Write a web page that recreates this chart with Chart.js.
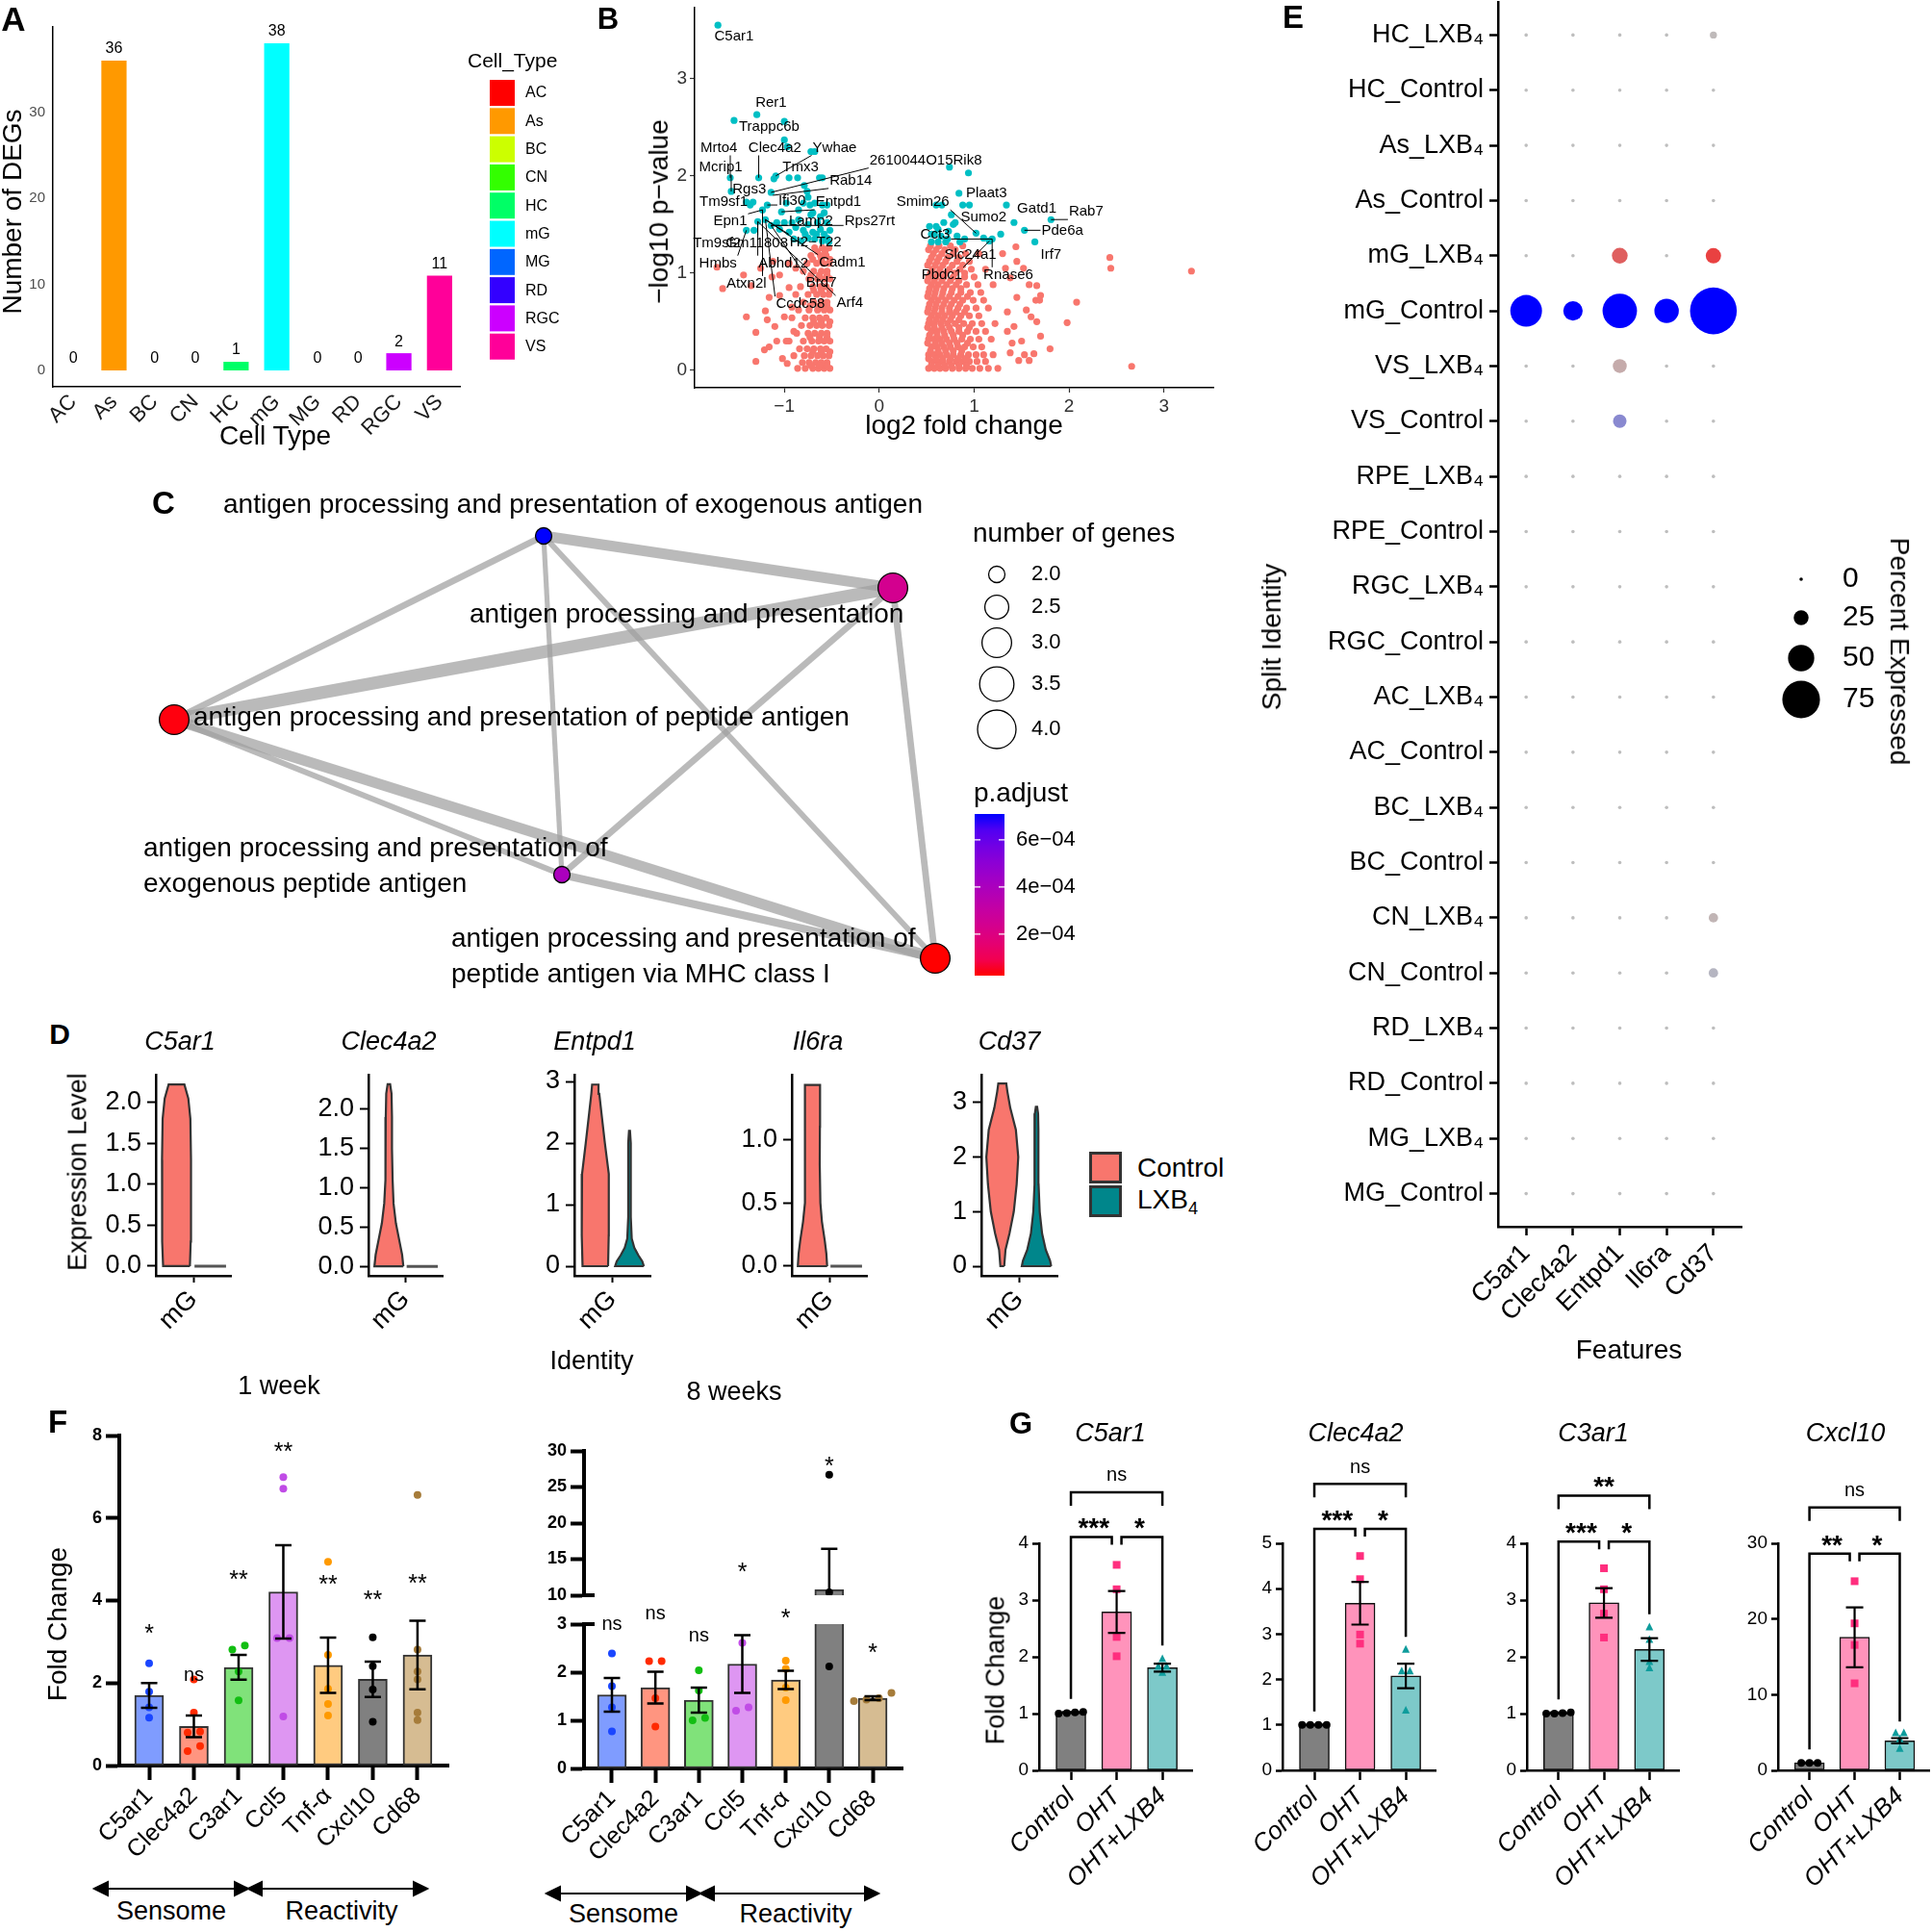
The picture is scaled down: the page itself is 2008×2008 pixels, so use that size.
<!DOCTYPE html>
<html>
<head>
<meta charset="utf-8">
<title>LXB4 figure</title>
<script src="https://cdn.jsdelivr.net/npm/chart.js@4.4.1/dist/chart.umd.min.js"></script>
<style>
  html, body { margin: 0; padding: 0; background: #fff; }
  #fig { position: relative; width: 2008px; height: 2008px; overflow: hidden; background: #fff;
         font-family: 'Liberation Sans', Arial, Helvetica, sans-serif; color: #000; }
  #fig canvas { position: absolute; }
  .t { position: absolute; white-space: nowrap; line-height: 1.15; }
  .sw { position: absolute; box-sizing: border-box; border: 3px solid #333; }
  svg { position: absolute; left: 0; top: 0; }
</style>
</head>
<body>
<div id="fig"></div>
<script>
// ---------- A: DEGs per cell type ----------
var cellTypes = ['AC', 'As', 'BC', 'CN', 'HC', 'mG', 'MG', 'RD', 'RGC', 'VS'];
var degCounts = [0, 36, 0, 0, 1, 38, 0, 0, 2, 11];
var cellColors = ['#FF0000', '#FF9900', '#CCFF00', '#33FF00', '#00FF66', '#00FFFF', '#0066FF', '#3300FF', '#CC00FF', '#FF0099'];
var degTicks = [0, 10, 20, 30];

// ---------- B: volcano (log2FC, -log10 p) ----------
var volcanoSig = [
  [-1.70,3.55],[-1.29,2.63],[-1.53,2.57],[-1.00,2.56],[-1.00,2.37],[-0.97,2.30],[-0.72,2.25],[-0.68,2.25],
  [-1.57,1.98],[-1.27,1.98],[-1.09,2.00],[-1.11,1.97],[-0.95,1.98],[-0.86,1.98],[-0.63,1.98],[-0.60,1.98],
  [-1.56,1.84],[-1.14,1.83],[-0.76,1.84],[-0.79,1.90],[-0.75,1.78],[-1.36,1.70],[-1.40,1.73],[-1.33,1.73],
  [-1.18,1.70],[-0.98,1.72],[-0.80,1.72],[-0.73,1.70],[-0.68,1.72],[-0.60,1.70],[-0.55,1.70],[-1.23,1.65],
  [-1.03,1.63],[-0.72,1.60],[-1.28,1.53],[-1.20,1.55],[-1.08,1.52],[-1.00,1.52],[-0.92,1.52],[-0.85,1.55],
  [-0.75,1.50],[-0.65,1.52],[-0.55,1.52],[-1.40,1.44],[-1.32,1.44],[-1.14,1.49],[-1.05,1.45],[-0.95,1.42],
  [-0.88,1.47],[-0.80,1.44],[-0.70,1.42],[-0.62,1.45],[-0.52,1.44],[-0.90,1.35],[-0.82,1.33],[-0.75,1.36],
  [-0.68,1.35],[-0.60,1.33],[-0.55,1.36],[-0.53,1.32],[-0.58,1.40],[-0.66,1.40],[-0.78,1.40],[-0.62,1.58],
  [-0.70,1.62],[-0.58,1.62],[-0.85,1.65],
  [0.74,2.09],[0.94,2.03],[0.84,1.82],[0.95,1.70],[1.34,1.70],[0.66,1.70],[0.60,1.70],[0.88,1.70],
  [0.76,1.60],[0.80,1.52],[0.68,1.52],[0.53,1.48],[0.60,1.48],[0.73,1.43],[1.02,1.41],[1.28,1.40],
  [1.19,1.35],[1.16,1.33],[1.42,1.52],[1.53,1.44],[1.81,1.55],[1.64,1.32],[0.55,1.32],[0.62,1.32],
  [0.70,1.32],[0.85,1.32],[0.90,1.35],[1.10,1.36],[0.58,1.40],[0.65,1.38],[0.55,1.40],[0.62,1.45],
  [0.78,1.50],[0.82,1.38],[0.72,1.35]
];
var volcanoNs = [
  [-0.52,0.02],[-0.58,0.02],[-0.64,0.02],[-0.70,0.02],[-0.78,0.02],[-0.86,0.02],
  [-0.55,0.08],[-0.61,0.08],[-0.67,0.08],[-0.74,0.08],[-0.81,0.08],
  [-0.53,0.15],[-0.59,0.15],[-0.65,0.15],[-0.72,0.15],[-0.79,0.15],[-0.90,0.15],
  [-0.56,0.22],[-0.62,0.22],[-0.69,0.22],[-0.76,0.22],[-0.84,0.22],
  [-0.52,0.30],[-0.58,0.30],[-0.64,0.30],[-0.71,0.30],[-0.80,0.30],[-0.95,0.30],
  [-0.55,0.38],[-0.61,0.38],[-0.68,0.38],[-0.75,0.38],[-0.87,0.38],
  [-0.53,0.46],[-0.60,0.46],[-0.66,0.46],[-0.73,0.46],[-0.82,0.46],
  [-0.56,0.54],[-0.63,0.54],[-0.70,0.54],[-0.78,0.54],[-0.92,0.54],
  [-0.52,0.62],[-0.58,0.62],[-0.65,0.62],[-0.74,0.62],[-0.85,0.62],
  [-0.55,0.70],[-0.61,0.70],[-0.69,0.70],[-0.80,0.70],
  [-0.53,0.78],[-0.59,0.78],[-0.66,0.78],[-0.75,0.78],[-0.88,0.78],
  [-0.56,0.86],[-0.62,0.86],[-0.70,0.86],[-0.83,0.86],
  [-0.52,0.94],[-0.58,0.94],[-0.65,0.94],[-0.74,0.94],
  [-0.55,1.02],[-0.61,1.02],[-0.69,1.02],[-0.80,1.02],
  [-0.53,1.10],[-0.59,1.10],[-0.66,1.10],[-0.76,1.10],
  [-0.56,1.18],[-0.62,1.18],[-0.72,1.18],
  [-0.53,1.26],[-0.60,1.26],[-0.68,1.26],
  [-0.55,0.05],[-0.63,0.05],[-0.72,0.05],[-0.52,0.19],[-0.61,0.19],[-0.70,0.19],
  [-0.55,0.34],[-0.63,0.34],[-0.73,0.34],[-0.52,0.50],[-0.61,0.50],[-0.69,0.50],
  [-0.55,0.66],[-0.63,0.66],[-0.73,0.66],[-0.52,0.82],[-0.61,0.82],[-0.69,0.82],
  [-0.55,0.98],[-0.63,0.98],[-0.72,0.98],[-0.52,1.14],[-0.61,1.14],[-0.70,1.14],
  [-0.57,1.22],[-0.65,1.22],
  [-1.71,1.06],[-1.65,0.84],[-1.43,0.98],[-1.30,0.39],[-1.21,0.21],[-1.16,0.24],[-1.30,0.09],[-1.20,0.61],
  [-1.16,0.75],[-1.13,0.96],[-1.05,0.98],[-1.05,0.77],[-1.10,0.45],[-1.00,0.55],[-0.98,0.30],[-1.02,0.12],
  [-0.95,0.85],[-0.92,0.65],[-0.95,1.10],[-1.25,1.05],[-1.35,0.87],[-1.18,0.52],[-1.08,0.30],[-0.97,0.07],
  [-0.90,0.40],[-0.88,1.05],[-1.12,1.12],[-1.40,0.55],
  [0.52,0.02],[0.58,0.02],[0.64,0.02],[0.70,0.02],[0.77,0.02],[0.84,0.02],[0.91,0.02],[0.98,0.02],[1.06,0.02],[1.15,0.02],[1.25,0.02],
  [0.55,0.09],[0.61,0.09],[0.67,0.09],[0.74,0.09],[0.81,0.09],[0.88,0.09],[0.95,0.09],[1.03,0.09],[1.12,0.09],
  [0.52,0.16],[0.58,0.16],[0.64,0.16],[0.71,0.16],[0.78,0.16],[0.86,0.16],[0.94,0.16],[1.02,0.16],[1.10,0.16],[1.20,0.16],
  [0.55,0.24],[0.61,0.24],[0.68,0.24],[0.75,0.24],[0.83,0.24],[0.90,0.24],[0.99,0.24],[1.08,0.24],
  [0.52,0.32],[0.58,0.32],[0.64,0.32],[0.71,0.32],[0.79,0.32],[0.87,0.32],[0.96,0.32],[1.05,0.32],[1.18,0.32],
  [0.55,0.40],[0.61,0.40],[0.68,0.40],[0.76,0.40],[0.84,0.40],[0.93,0.40],[1.02,0.40],[1.12,0.40],
  [0.52,0.48],[0.58,0.48],[0.65,0.48],[0.72,0.48],[0.80,0.48],[0.89,0.48],[0.98,0.48],[1.08,0.48],[1.22,0.48],
  [0.55,0.56],[0.62,0.56],[0.69,0.56],[0.77,0.56],[0.86,0.56],[0.95,0.56],[1.05,0.56],
  [0.52,0.64],[0.59,0.64],[0.66,0.64],[0.74,0.64],[0.83,0.64],[0.92,0.64],[1.02,0.64],[1.15,0.64],
  [0.55,0.72],[0.62,0.72],[0.70,0.72],[0.79,0.72],[0.88,0.72],[0.99,0.72],[1.10,0.72],
  [0.52,0.80],[0.59,0.80],[0.67,0.80],[0.76,0.80],[0.86,0.80],[0.96,0.80],[1.07,0.80],
  [0.55,0.88],[0.62,0.88],[0.71,0.88],[0.81,0.88],[0.92,0.88],[1.04,0.88],[1.20,0.88],
  [0.52,0.96],[0.60,0.96],[0.68,0.96],[0.78,0.96],[0.90,0.96],[1.00,0.96],
  [0.56,1.04],[0.64,1.04],[0.74,1.04],[0.85,1.04],[0.97,1.04],[1.12,1.04],
  [0.53,1.12],[0.61,1.12],[0.70,1.12],[0.82,1.12],[0.95,1.12],
  [0.57,1.20],[0.66,1.20],[0.78,1.20],[0.91,1.20],[1.05,1.20],
  [0.54,1.28],[0.63,1.28],[0.75,1.28],[0.88,1.28],
  [0.55,0.05],[0.62,0.05],[0.69,0.05],[0.76,0.05],[0.84,0.05],[0.92,0.05],
  [0.52,0.12],[0.60,0.12],[0.67,0.12],[0.75,0.12],[0.83,0.12],[0.91,0.12],
  [0.54,0.20],[0.62,0.20],[0.70,0.20],[0.78,0.20],[0.87,0.20],
  [0.51,0.28],[0.59,0.28],[0.66,0.28],[0.74,0.28],[0.82,0.28],[0.93,0.28],
  [0.53,0.36],[0.61,0.36],[0.69,0.36],[0.78,0.36],[0.88,0.36],
  [0.51,0.44],[0.58,0.44],[0.66,0.44],[0.74,0.44],[0.84,0.44],[0.95,0.44],
  [0.53,0.52],[0.60,0.52],[0.67,0.52],[0.75,0.52],[0.84,0.52],
  [0.51,0.60],[0.58,0.60],[0.66,0.60],[0.74,0.60],[0.81,0.60],[0.90,0.60],
  [0.53,0.68],[0.60,0.68],[0.68,0.68],[0.76,0.68],[0.85,0.68],
  [0.51,0.76],[0.58,0.76],[0.66,0.76],[0.74,0.76],[0.83,0.76],[0.93,0.76],
  [0.53,0.84],[0.60,0.84],[0.68,0.84],[0.77,0.84],[0.86,0.84],
  [0.51,0.92],[0.58,0.92],[0.66,0.92],[0.75,0.92],[0.84,0.92],
  [0.54,1.00],[0.62,1.00],[0.70,1.00],[0.80,1.00],[0.90,1.00],
  [0.51,1.08],[0.59,1.08],[0.67,1.08],[0.77,1.08],[0.88,1.08],
  [0.55,1.16],[0.63,1.16],[0.72,1.16],[0.84,1.16],
  [0.52,1.24],[0.60,1.24],[0.69,1.24],[0.80,1.24],
  [1.38,0.95],[1.45,0.75],[1.35,0.60],[1.42,0.45],[1.50,0.30],[1.38,0.18],[1.47,0.10],[1.55,0.62],
  [1.58,0.88],[1.65,0.72],[1.60,0.55],[1.66,0.50],[1.70,0.35],[1.52,1.05],[1.45,1.12],[1.30,1.20],
  [1.33,1.05],[1.35,0.40],[1.40,0.28],[1.58,0.10],[1.63,0.17],[1.53,0.16],[1.44,1.27],[1.70,0.77],
  [1.69,0.72],[1.66,0.87],[1.80,0.22],[1.98,0.49],[2.08,0.70],[2.43,1.16],[2.44,1.05],[2.66,0.04],[3.29,1.02]
];
// gene, point x, point y, label x, label y
var volcanoLabels = [
  ['C5ar1', -1.70, 3.55, -1.53, 3.43], ['Rer1', -1.29, 2.63, -1.14, 2.75], ['Trappc6b', -1.53, 2.57, -1.16, 2.50],
  ['Mrto4', -1.57, 1.98, -1.69, 2.29], ['Mcrip1', -1.56, 1.84, -1.67, 2.09], ['Clec4a2', -1.27, 1.98, -1.10, 2.29],
  ['Ywhae', -1.09, 2.00, -0.47, 2.29], ['Tmx3', -1.11, 1.97, -0.83, 2.09], ['2610044O15Rik8', -1.14, 1.83, 0.49, 2.16],
  ['Rab14', -1.12, 1.80, -0.30, 1.95], ['Rgs3', -1.40, 1.73, -1.37, 1.86], ['Tm9sf1', -1.33, 1.73, -1.64, 1.73],
  ['Ifi30', -1.18, 1.70, -0.92, 1.74], ['Entpd1', -1.03, 1.63, -0.43, 1.73], ['Epn1', -1.23, 1.65, -1.57, 1.53],
  ['Lamp2', -1.14, 1.49, -0.72, 1.53], ['Rps27rt', -1.14, 1.49, -0.10, 1.53], ['Tm9sf2', -1.40, 1.44, -1.71, 1.31],
  ['Gm11808', -1.28, 1.53, -1.29, 1.31], ['H2\u2212T22', -1.20, 1.55, -0.67, 1.32], ['Hmbs', -1.40, 1.44, -1.70, 1.10],
  ['Abhd12', -1.28, 1.53, -1.01, 1.10], ['Cadm1', -1.20, 1.55, -0.39, 1.11], ['Atxn2l', -1.23, 1.65, -1.40, 0.89],
  ['Brd7', -1.14, 1.49, -0.61, 0.90], ['Ccdc58', -1.20, 1.55, -0.83, 0.68], ['Arf4', -1.28, 1.53, -0.31, 0.69],
  ['Smim26', 1.02, 1.41, 0.46, 1.73], ['Plaat3', 0.84, 1.82, 1.13, 1.82], ['Sumo2', 1.28, 1.40, 1.10, 1.57],
  ['Cct3', 1.19, 1.35, 0.59, 1.40], ['Gatd1', 1.42, 1.52, 1.66, 1.66], ['Rab7', 1.81, 1.55, 2.18, 1.63],
  ['Pde6a', 1.53, 1.44, 1.93, 1.43], ['Irf7', 1.64, 1.32, 1.81, 1.19], ['Slc24a1', 1.16, 1.33, 0.96, 1.19],
  ['Pbdc1', 1.16, 1.33, 0.66, 0.98], ['Rnase6', 1.19, 1.35, 1.36, 0.98]
];
var fcTicks = [-1, 0, 1, 2, 3];
var pvalTicks = [0, 1, 2, 3];

// ---------- C: GO term network ----------
var goTerms = ['antigen processing and presentation of exogenous antigen',
  'antigen processing and presentation',
  'antigen processing and presentation of peptide antigen',
  'antigen processing and presentation of\nexogenous peptide antigen',
  'antigen processing and presentation of\npeptide antigen via MHC class I'];
var goGenes = [2, 3, 3, 2, 3];
var goPadj = [7.1e-4, 2.4e-4, 0.26e-4, 4.0e-4, 0.24e-4];
var goX = [5.65, 9.28, 1.81, 5.84, 9.72];
var goY = [5.57, 6.11, 7.48, 9.09, 9.96];
var goEdges = [[0, 1, 0.62], [0, 2, 0.36], [0, 3, 0.26], [0, 4, 0.30], [1, 2, 0.76],
               [1, 3, 0.36], [1, 4, 0.36], [2, 3, 0.32], [2, 4, 0.64], [3, 4, 0.46]];
var sizeLegend = [2.0, 2.5, 3.0, 3.5, 4.0];
var padjTicks = [6e-4, 4e-4, 2e-4];

// ---------- D: violins in mG ----------
var dGenes = ['C5ar1', 'Clec4a2', 'Entpd1', 'Il6ra', 'Cd37'];
var dTicks = [[0, 0.5, 1, 1.5, 2], [0, 0.5, 1, 1.5, 2], [0, 1, 2, 3], [0, 0.5, 1], [0, 1, 2, 3]];
var dRange = [[-0.118, 2.34], [-0.12, 2.44], [-0.156, 3.11], [-0.076, 1.51], [-0.176, 3.51]];
var dCtrlY = [[0, 0.3, 0.8, 1.3, 1.8, 2.05, 2.22],
              [0, 0.15, 0.35, 0.55, 0.8, 1.1, 1.5, 1.9, 2.2, 2.32],
              [0, 0.5, 1.0, 1.5, 2.0, 2.5, 2.8, 2.95],
              [0, 0.1, 0.2, 0.35, 0.5, 0.8, 1.1, 1.35, 1.43],
              [0, 0.3, 0.6, 1.0, 1.5, 2.0, 2.5, 2.9, 3.2, 3.35]];
var dCtrlW = [[0.85, 0.9, 0.92, 0.92, 0.88, 0.75, 0.5],
              [0.93, 0.85, 0.65, 0.45, 0.3, 0.24, 0.2, 0.2, 0.17, 0.08],
              [0.8, 0.84, 0.86, 0.83, 0.6, 0.38, 0.25, 0.2],
              [0.93, 0.88, 0.78, 0.6, 0.5, 0.46, 0.47, 0.48, 0.48],
              [0.12, 0.2, 0.45, 0.72, 0.9, 1.0, 0.85, 0.5, 0.32, 0.25]];
var dLxbY = [[0, 0], [0, 0],
             [0, 0.08, 0.18, 0.3, 0.45, 0.8, 1.5, 2.0, 2.2],
             [0, 0],
             [0, 0.1, 0.3, 0.6, 1.0, 1.5, 2.0, 2.5, 2.8, 2.92]];
var dLxbW = [[1, 1], [1, 1],
             [0.9, 0.8, 0.55, 0.3, 0.14, 0.08, 0.08, 0.08, 0.03],
             [1, 1],
             [0.92, 0.85, 0.58, 0.35, 0.2, 0.13, 0.12, 0.12, 0.1, 0.04]];

// ---------- E: dot plot ----------
var eRows = ['HC_LXB\u2084', 'HC_Control', 'As_LXB\u2084', 'As_Control', 'mG_LXB\u2084', 'mG_Control',
  'VS_LXB\u2084', 'VS_Control', 'RPE_LXB\u2084', 'RPE_Control', 'RGC_LXB\u2084', 'RGC_Control',
  'AC_LXB\u2084', 'AC_Control', 'BC_LXB\u2084', 'BC_Control', 'CN_LXB\u2084', 'CN_Control',
  'RD_LXB\u2084', 'RD_Control', 'MG_LXB\u2084', 'MG_Control'];
var eFeatures = ['C5ar1', 'Clec4a2', 'Entpd1', 'Il6ra', 'Cd37'];
var ePct = [
  [0, 0, 0, 0, 8], [0, 0, 0, 0, 0], [0, 0, 0, 0, 0], [0, 0, 0, 0, 0],
  [0, 0, 27, 0, 26], [62, 35, 68, 46, 95], [0, 0, 23, 0, 0], [0, 0, 22, 0, 0],
  [0, 0, 0, 0, 0], [0, 0, 0, 0, 0], [0, 0, 0, 0, 0], [0, 0, 0, 0, 0],
  [0, 0, 0, 0, 0], [0, 0, 0, 0, 0], [0, 0, 0, 0, 0], [0, 0, 0, 0, 0],
  [0, 0, 0, 0, 13], [0, 0, 0, 0, 13], [0, 0, 0, 0, 0], [0, 0, 0, 0, 0],
  [0, 0, 0, 0, 0], [0, 0, 0, 0, 0]];
var eExpr = [
  [0, 0, 0, 0, 0.02], [0, 0, 0, 0, 0], [0, 0, 0, 0, 0], [0, 0, 0, 0, 0],
  [0, 0, 0.5, 0, 0.66], [1, 1, 1, 1, 1], [0, 0, 0.1, 0, 0], [0, 0, 0.28, 0, 0],
  [0, 0, 0, 0, 0], [0, 0, 0, 0, 0], [0, 0, 0, 0, 0], [0, 0, 0, 0, 0],
  [0, 0, 0, 0, 0], [0, 0, 0, 0, 0], [0, 0, 0, 0, 0], [0, 0, 0, 0, 0],
  [0, 0, 0, 0, 0.05], [0, 0, 0, 0, 0.05], [0, 0, 0, 0, 0], [0, 0, 0, 0, 0],
  [0, 0, 0, 0, 0], [0, 0, 0, 0, 0]];
var pctLegend = [0, 25, 50, 75];

// ---------- F: qPCR fold change ----------
var fGenes = ['C5ar1', 'Clec4a2', 'C3ar1', 'Ccl5', 'Tnf-\u03b1', 'Cxcl10', 'Cd68'];
var f1Mean = [1.70, 0.95, 2.38, 4.21, 2.43, 2.09, 2.68];
var f1Sem = [0.30, 0.26, 0.30, 1.13, 0.67, 0.43, 0.83];
var f1Pts = [[2.48, 1.79, 1.41, 1.16], [2.09, 1.28, 0.80, 0.82, 0.47, 0.35], [2.81, 2.91, 2.28, 1.58],
             [6.99, 6.71, 3.09, 3.09, 1.19], [4.94, 2.68, 1.86, 1.49, 1.21], [3.11, 2.41, 1.84, 1.06],
             [6.56, 2.81, 2.28, 2.09, 1.28, 1.10]];
var f1Sig = ['*', 'ns', '**', '**', '**', '**', '**'];
var f1SigY = [3.34, 2.18, 4.64, 7.74, 4.53, 4.16, 4.55];
var f2Mean = [1.53, 1.68, 1.42, 2.17, 1.84, 10.78, 1.46];
var f2Sem = [0.35, 0.33, 0.26, 0.60, 0.19, 5.66, 0.04];
var f2Pts = [[2.39, 1.71, 1.27, 0.77], [2.23, 2.23, 1.46, 0.87], [2.04, 1.62, 1.05, 1.00],
             [2.61, 1.27, 1.20, 3.60], [2.24, 2.07, 1.68, 1.42], [26.7, 10.4, 2.12, 3.90],
             [1.57, 1.40, 1.46, 1.43]];
var f2Sig = ['ns', 'ns', 'ns', '*', '*', '*', '*'];
var f2SigY = [3.0, 3.22, 2.76, 14.05, 3.24, 28.7, 2.52];
var fBarColors = ['#7F9CFF', '#FF9580', '#80E27A', '#DE96F2', '#FFCB80', '#808080', '#D6BC92'];
var fDotColors = ['#1A46FF', '#FF2A00', '#12BE12', '#C04CE6', '#FF9A00', '#000000', '#A67C3A'];

// ---------- G: qPCR Control / OHT / OHT+LXB4 ----------
var gGroups = ['Control', 'OHT', 'OHT+LXB4'];
var gGenes = ['C5ar1', 'Clec4a2', 'C3ar1', 'Cxcl10'];
var gMean = [[1.02, 2.79, 1.81], [1.0, 3.68, 2.08], [1.01, 2.95, 2.13], [1.0, 17.58, 3.91]];
var gSem = [[0.01, 0.37, 0.07], [0.01, 0.47, 0.27], [0.01, 0.26, 0.20], [0.05, 3.96, 0.35]];
var gPts = [
  [[1.00, 1.03, 1.02, 1.01], [3.62, 3.19, 2.35, 2.01], [1.96, 1.83, 1.83, 1.72]],
  [[1.00, 1.00, 1.00, 1.00], [4.72, 4.21, 2.99, 2.79], [2.66, 2.18, 2.18, 1.32]],
  [[1.02, 1.00, 1.01, 1.00], [3.56, 3.19, 2.76, 2.34], [2.52, 2.30, 1.91, 1.80]],
  [[1.00, 1.00, 1.00], [24.99, 19.42, 16.57, 11.50], [4.92, 4.92, 4.14, 2.85]]];
var gYMax = [4, 5, 4, 30];
var gYStep = [1, 1, 1, 10];
var gTopY = [4.9, 6.31, 4.84, 34.74];
var gTopSig = ['ns', 'ns', '**', 'ns'];
var gLowY = [4.11, 5.32, 4.03, 28.62];
var gLowSig = [['***', '*'], ['***', '*'], ['***', '*'], ['**', '*']];
var gLegCtrl = [1.26, 1.30, 1.25, 2.76];
var gLegLxb = [2.2, 2.94, 2.75, 6.44];
var gBarColors = ['#808080', '#FF93BB', '#7DC9C9'];
var gDotColors = ['#000000', '#FF2E7E', '#0E9C9C'];
var gShapes = ['circle', 'rect', 'triangle'];

// ================= drawing =================
var FONT = "'Liberation Sans', Arial, Helvetica, sans-serif";
Chart.defaults.font.family = FONT;
Chart.defaults.color = '#000';
Chart.defaults.animation = false;
Chart.defaults.responsive = false;
Chart.defaults.events = [];
Chart.defaults.layout.autoPadding = false;
Chart.defaults.plugins.legend.display = false;
Chart.defaults.plugins.tooltip.enabled = false;

var fig = document.getElementById('fig');

function panel(box, area) {
  var c = document.createElement('canvas');
  c.width = box[2];
  c.height = box[3];
  c.style.left = box[0] + 'px';
  c.style.top = box[1] + 'px';
  fig.appendChild(c);
  return {
    el: c, ox: box[0], oy: box[1],
    pad: { left: 0, top: area[1] - box[1], right: box[0] + box[2] - area[2], bottom: 0 },
    yw: area[0] - box[0],
    xh: box[1] + box[3] - area[3]
  };
}
function fitTo(size) {
  return function (s) {
    if (s.isHorizontal()) { s.height = size; } else { s.width = size; }
    s.paddingLeft = 0; s.paddingRight = 0; s.paddingTop = 0; s.paddingBottom = 0;
  };
}
function tickList(list) {
  return function (s) { s.ticks = list.map(function (v) { return { value: v }; }); };
}
function txt(s, x, y, size, o) {
  o = o || {};
  var d = document.createElement('div');
  d.className = 't';
  d.innerHTML = s;
  d.style.left = x + 'px';
  d.style.top = y + 'px';
  d.style.fontSize = size + 'px';
  if (o.b) d.style.fontWeight = 'bold';
  if (o.i) d.style.fontStyle = 'italic';
  d.style.transform = 'translate(' + (o.left ? '0' : '-50%') + ',-50%)' + (o.rot ? ' rotate(' + o.rot + 'deg)' : '');
  fig.appendChild(d);
}
function minusFmt(v) { return v < 0 ? '\u2212' + Math.abs(v) : String(v); }

// ---- A ----
var pA = panel([0, 0, 610, 480], [55, 28, 478, 402]);
new Chart(pA.el, {
  type: 'bar',
  data: { labels: cellTypes, datasets: [{ data: degCounts, backgroundColor: cellColors, barPercentage: 0.62, categoryPercentage: 1 }] },
  options: {
    layout: { padding: pA.pad },
    scales: {
      x: { grid: { display: false, drawTicks: false }, border: { color: '#000', width: 1.5 },
           ticks: { font: { size: 22 }, color: '#1a1a1a', minRotation: 45, maxRotation: 45, autoSkip: false, padding: 3 },
           afterFit: fitTo(pA.xh) },
      y: { min: -1.9, max: 39.9, afterBuildTicks: tickList(degTicks), grid: { display: false, drawTicks: false },
           border: { color: '#000', width: 1.5 },
           ticks: { font: { size: 15 }, color: '#4d4d4d', padding: 8 }, afterFit: fitTo(pA.yw) }
    }
  },
  plugins: [{ id: 'degLabels', afterDraw: function (ch) {
    var ctx = ch.ctx, bars = ch.getDatasetMeta(0).data;
    ctx.save();
    ctx.font = '16px ' + FONT; ctx.fillStyle = '#000';
    ctx.textAlign = 'center'; ctx.textBaseline = 'bottom';
    bars.forEach(function (b, i) { ctx.fillText(String(degCounts[i]), b.x, b.y - 4); });
    ctx.textAlign = 'left'; ctx.textBaseline = 'middle';
    ctx.font = '21px ' + FONT;
    ctx.fillText('Cell_Type', 486, 64);
    ctx.font = '16px ' + FONT;
    cellTypes.forEach(function (t, i) {
      var y = 83 + i * 29.3;
      ctx.fillStyle = cellColors[i];
      ctx.fillRect(509, y, 26, 27);
      ctx.fillStyle = '#000';
      ctx.fillText(t, 546, y + 14);
    });
    ctx.restore();
  } }]
});

// ---- B ----
var pB = panel([620, 0, 680, 470], [722, 8, 1261, 403]);
function xy(p) { return { x: p[0], y: p[1] }; }
new Chart(pB.el, {
  type: 'scatter',
  data: { datasets: [
    { data: volcanoSig.map(xy), pointRadius: 3.6, pointBackgroundColor: '#00BFC4', pointBorderWidth: 0 },
    { data: volcanoNs.map(xy), pointRadius: 3.6, pointBackgroundColor: '#F8766D', pointBorderWidth: 0 }
  ] },
  options: {
    layout: { padding: pB.pad },
    scales: {
      x: { type: 'linear', min: -1.945, max: 3.52, afterBuildTicks: tickList(fcTicks),
           grid: { drawOnChartArea: false, tickLength: 5, tickColor: '#333', tickWidth: 1.2 },
           border: { color: '#000', width: 1.5 },
           ticks: { font: { size: 19 }, color: '#333', padding: 3, callback: minusFmt }, afterFit: fitTo(pB.xh) },
      y: { min: -0.18, max: 3.73, afterBuildTicks: tickList(pvalTicks),
           grid: { drawOnChartArea: false, tickLength: 5, tickColor: '#333', tickWidth: 1.2 },
           border: { color: '#000', width: 1.5 },
           ticks: { font: { size: 19 }, color: '#333', padding: 3 }, afterFit: fitTo(pB.yw) }
    }
  },
  plugins: [{ id: 'repel', afterDatasetsDraw: function (ch) {
    var ctx = ch.ctx, xs = ch.scales.x, ys = ch.scales.y;
    ctx.save();
    ctx.font = '15px ' + FONT;
    ctx.strokeStyle = '#000'; ctx.lineWidth = 1;
    volcanoLabels.forEach(function (l) {
      var px = xs.getPixelForValue(l[1]), py = ys.getPixelForValue(l[2]);
      var lx = xs.getPixelForValue(l[3]), ly = ys.getPixelForValue(l[4]);
      var hw = ctx.measureText(l[0]).width / 2 + 1, hh = 8;
      var nx = Math.max(lx - hw, Math.min(px, lx + hw)), ny = Math.max(ly - hh, Math.min(py, ly + hh));
      if (Math.hypot(nx - px, ny - py) > 10) {
        ctx.beginPath(); ctx.moveTo(px, py); ctx.lineTo(nx, ny); ctx.stroke();
      }
    });
    ctx.fillStyle = '#000'; ctx.textAlign = 'center'; ctx.textBaseline = 'middle';
    volcanoLabels.forEach(function (l) {
      ctx.fillText(l[0], xs.getPixelForValue(l[3]), ys.getPixelForValue(l[4]));
    });
    ctx.restore();
  } }]
});

// ---- C ----
var padjMin = 0.24e-4, padjMax = 7.1e-4;
function padjColor(p) {
  var t = Math.max(0, Math.min(1, (p - padjMin) / (padjMax - padjMin)));
  return 'rgb(' + Math.round(255 * Math.sqrt(1 - t)) + ',0,' + Math.round(255 * Math.sqrt(t)) + ')';
}
function geneRadius(v) { return Math.sqrt(72 + (v - 2) * 164); }
var cLayout = { labelX: [2.32, 4.88, 2.01, 1.49, 4.69], labelY: [5.25, 6.39, 7.46, 8.82, 9.76], lineGap: 0.37 };
var pC = panel([140, 490, 1160, 560], [140, 490, 1300, 1050]);
var cSets = [{
  data: goX.map(function (x, i) { return { x: x, y: goY[i] }; }),
  pointRadius: function (c) { return geneRadius(goGenes[c.dataIndex]); },
  pointBackgroundColor: function (c) { return padjColor(goPadj[c.dataIndex]); },
  pointBorderColor: '#000', pointBorderWidth: 1.3
}];
goEdges.forEach(function (e) {
  cSets.push({
    data: [{ x: goX[e[0]], y: goY[e[0]] }, { x: goX[e[1]], y: goY[e[1]] }],
    showLine: true, borderColor: 'rgba(160,160,160,0.72)', borderWidth: 1 + e[2] * 16, pointRadius: 0
  });
});
new Chart(pC.el, {
  type: 'scatter',
  data: { datasets: cSets },
  options: {
    layout: { padding: pC.pad },
    scales: {
      x: { type: 'linear', display: false, min: 1.40, max: 13.00, afterFit: fitTo(0) },
      y: { type: 'linear', display: false, min: 4.90, max: 10.50, reverse: true, afterFit: fitTo(0) }
    }
  },
  plugins: [{ id: 'netText', afterDraw: function (ch) {
    var ctx = ch.ctx, xs = ch.scales.x, ys = ch.scales.y;
    ctx.save();
    ctx.fillStyle = '#000'; ctx.textAlign = 'left'; ctx.textBaseline = 'middle';
    ctx.font = '28px ' + FONT;
    goTerms.forEach(function (t, i) {
      t.split('\n').forEach(function (line, k) {
        ctx.fillText(line, xs.getPixelForValue(cLayout.labelX[i]), ys.getPixelForValue(cLayout.labelY[i] + k * cLayout.lineGap));
      });
    });
    // size legend
    ctx.fillText('number of genes', 871, 65);
    ctx.font = '22px ' + FONT;
    var ly = [107, 141, 178, 221, 268];
    sizeLegend.forEach(function (v, i) {
      ctx.beginPath(); ctx.arc(896, ly[i], geneRadius(v), 0, Math.PI * 2);
      ctx.fillStyle = '#fff'; ctx.fill();
      ctx.strokeStyle = '#000'; ctx.lineWidth = 1.3; ctx.stroke();
      ctx.fillStyle = '#000'; ctx.fillText(v.toFixed(1), 932, ly[i]);
    });
    // colour bar
    ctx.font = '28px ' + FONT;
    ctx.fillText('p.adjust', 872, 335);
    var top = 356, h = 168;
    var g = ctx.createLinearGradient(0, top, 0, top + h);
    for (var s = 0; s <= 10; s++) g.addColorStop(s / 10, padjColor(padjMax - (padjMax - padjMin) * s / 10));
    ctx.fillStyle = g; ctx.fillRect(873, top, 31, h);
    ctx.font = '22px ' + FONT;
    padjTicks.forEach(function (v) {
      var y = top + (padjMax - v) / (padjMax - padjMin) * h;
      ctx.strokeStyle = '#fff'; ctx.lineWidth = 1.2;
      ctx.beginPath(); ctx.moveTo(873, y); ctx.lineTo(879, y); ctx.moveTo(898, y); ctx.lineTo(904, y); ctx.stroke();
      ctx.fillStyle = '#000';
      ctx.fillText(v.toExponential(0).replace('e-', 'e\u22120'), 916, y);
    });
    ctx.restore();
  } }]
});

// ---- D ----
var dAxisL = [162, 383, 597, 823, 1020], dAxisR = [240, 460, 676, 901, 1099];
function violinSet(levels, widths, c, col) {
  var pts = [], i;
  for (i = 0; i < levels.length; i++) pts.push({ x: c + widths[i] * 0.21, y: levels[i] });
  for (i = levels.length - 1; i >= 0; i--) pts.push({ x: c - widths[i] * 0.21, y: levels[i] });
  pts.push(pts[0]);
  var flat = levels[levels.length - 1] === 0;
  return { data: pts, borderColor: flat ? '#555' : '#333', borderWidth: flat ? 3 : 2.2, backgroundColor: col,
           fill: 'shape', pointRadius: 0, tension: 0 };
}
dGenes.forEach(function (g, k) {
  var L = dAxisL[k], R = dAxisR[k];
  var p = panel([L - 80, 1095, R - L + 100, 310], [L, 1117, R, 1326]);
  var oneDecimal = dTicks[k].some(function (v) { return v % 1 !== 0; });
  new Chart(p.el, {
    type: 'line',
    data: { datasets: [violinSet(dCtrlY[k], dCtrlW[k], -0.225, '#F8766D'), violinSet(dLxbY[k], dLxbW[k], 0.225, '#00868B')] },
    options: {
      layout: { padding: p.pad },
      scales: {
        x: { type: 'linear', min: -0.5, max: 0.5, afterBuildTicks: tickList([0]),
             grid: { drawOnChartArea: false, tickLength: 7, tickWidth: 2, tickColor: '#000' },
             border: { color: '#000', width: 2.5 },
             ticks: { minRotation: 45, maxRotation: 45, font: { size: 27 }, padding: 2, callback: function () { return 'mG'; } },
             afterFit: fitTo(p.xh) },
        y: { min: dRange[k][0], max: dRange[k][1], afterBuildTicks: tickList(dTicks[k]),
             grid: { drawOnChartArea: false, tickLength: 9, tickWidth: 2, tickColor: '#000' },
             border: { color: '#000', width: 2.5 },
             ticks: { font: { size: 27 }, padding: 6, callback: function (v) { return oneDecimal ? v.toFixed(1) : String(v); } },
             afterFit: fitTo(p.yw) }
      }
    }
  });
});

// ---- E ----
function dotColor(lxb, t) {
  var base = 190, tgt = lxb ? [255, 0, 0] : [0, 0, 255];
  return 'rgb(' + tgt.map(function (c) { return Math.round(base + (c - base) * t); }).join(',') + ')';
}
function pctRadius(p) { return 1.8 + 0.237 * p; }
var eData = [];
eRows.forEach(function (row, r) {
  eFeatures.forEach(function (f, c) {
    eData.push({ x: c + 1, y: r + 1, pct: ePct[r][c], expr: eExpr[r][c], lxb: row.indexOf('LXB') >= 0 });
  });
});
var pE = panel([1290, 0, 718, 1440], [1557, 2, 1810, 1275]);
new Chart(pE.el, {
  type: 'scatter',
  data: { datasets: [{
    data: eData,
    pointRadius: function (c) { return pctRadius(c.raw.pct); },
    pointBackgroundColor: function (c) { return dotColor(c.raw.lxb, c.raw.expr); },
    pointBorderWidth: 0
  }] },
  options: {
    layout: { padding: pE.pad },
    scales: {
      x: { type: 'linear', min: 0.4, max: 5.6, afterBuildTicks: tickList([1, 2, 3, 4, 5]),
           grid: { drawOnChartArea: false, tickLength: 9, tickWidth: 2.5, tickColor: '#000' },
           border: { color: '#000', width: 2.5 },
           ticks: { minRotation: 45, maxRotation: 45, font: { size: 27 }, padding: 3, callback: function (v) { return eFeatures[v - 1]; } },
           afterFit: fitTo(pE.xh) },
      y: { type: 'linear', min: 0.4, max: 22.6, reverse: true,
           afterBuildTicks: tickList(eRows.map(function (r, i) { return i + 1; })),
           grid: { drawOnChartArea: false, tickLength: 9, tickWidth: 2.5, tickColor: '#000' },
           border: { color: '#000', width: 2.5 },
           ticks: { font: { size: 27 }, padding: 6, callback: function (v) { return eRows[v - 1]; } },
           afterFit: fitTo(pE.yw) }
    }
  },
  plugins: [{ id: 'pctLegend', afterDraw: function (ch) {
    var ctx = ch.ctx, ly = [602, 642, 684, 727];
    ctx.save();
    ctx.font = '30px ' + FONT; ctx.textAlign = 'left'; ctx.textBaseline = 'middle';
    pctLegend.forEach(function (v, i) {
      ctx.fillStyle = '#000';
      ctx.beginPath(); ctx.arc(582, ly[i], pctRadius(v), 0, Math.PI * 2); ctx.fill();
      ctx.fillText(String(v), 625, ly[i]);
    });
    ctx.restore();
  } }]
});

// ---- F & G shared bar + dot plots ----
function swarm(py, r, gap) {
  var idx = py.map(function (v, k) { return k; }).sort(function (a, b) { return py[b] - py[a]; });
  var off = py.map(function () { return 0; }), groups = [], cur = [];
  idx.forEach(function (k) {
    if (cur.length && Math.abs(py[k] - py[cur[cur.length - 1]]) >= 1.5 * r) { groups.push(cur); cur = []; }
    cur.push(k);
  });
  if (cur.length) groups.push(cur);
  groups.forEach(function (g) { g.forEach(function (k, j) { off[k] = (j - (g.length - 1) / 2) * gap; }); });
  return off;
}
function mark(ctx, shape, x, y, r) {
  ctx.beginPath();
  if (shape === 'rect') ctx.rect(x - r, y - r, 2 * r, 2 * r);
  else if (shape === 'triangle') { ctx.moveTo(x, y - r * 1.2); ctx.lineTo(x + r, y + r * 0.8); ctx.lineTo(x - r, y + r * 0.8); ctx.closePath(); }
  else ctx.arc(x, y, r, 0, Math.PI * 2);
  ctx.fill();
}
function drawDots(ch, o) {
  var ctx = ch.ctx, xs = ch.scales.x, ys = ch.scales.y, a = ch.chartArea;
  ctx.save();
  ctx.beginPath(); ctx.rect(a.left - 30, a.top, a.right - a.left + 60, a.bottom - a.top); ctx.clip();
  o.pts.forEach(function (vals, i) {
    var cx = xs.getPixelForValue(i);
    var py = vals.map(function (v) { return ys.getPixelForValue(v); });
    var off = swarm(py, o.r, o.gap);
    ctx.fillStyle = o.dotColors[i];
    py.forEach(function (y, k) { mark(ctx, o.shapes ? o.shapes[i] : 'circle', cx + off[k], y, o.r); });
  });
  ctx.strokeStyle = '#000'; ctx.lineWidth = o.errW;
  o.means.forEach(function (m, i) {
    var cx = xs.getPixelForValue(i), y1 = ys.getPixelForValue(m - o.sems[i]), y2 = ys.getPixelForValue(m + o.sems[i]);
    ctx.beginPath();
    ctx.moveTo(cx, y1); ctx.lineTo(cx, y2);
    ctx.moveTo(cx - o.capW / 2, y1); ctx.lineTo(cx + o.capW / 2, y1);
    ctx.moveTo(cx - o.capW / 2, y2); ctx.lineTo(cx + o.capW / 2, y2);
    ctx.stroke();
  });
  ctx.restore();
}
function groupBars(box, area, o) {
  var p = panel(box, area);
  if (!o.showX) { p.pad.bottom = p.xh; p.xh = 0; }
  return new Chart(p.el, {
    type: 'bar',
    data: { datasets: [{
      data: o.means.map(function (m, i) { return { x: i, y: m }; }),
      backgroundColor: o.barColors, borderColor: o.edge, borderWidth: o.edgeW, borderSkipped: false,
      barThickness: o.barW, clip: 0
    }] },
    options: {
      layout: { padding: p.pad },
      scales: {
        x: { type: 'linear', offset: false, min: o.xMin, max: o.xMax, display: o.showX,
             afterBuildTicks: tickList(o.names.map(function (n, i) { return i; })),
             grid: { offset: false, drawOnChartArea: false, tickLength: o.tickX, tickWidth: o.lineW, tickColor: '#000' },
             border: { color: '#000', width: o.lineW },
             ticks: { autoSkip: false, minRotation: 45, maxRotation: 45, font: o.xFont, padding: 2,
                      callback: function (v) { return o.names[v]; } },
             afterFit: fitTo(p.xh) },
        y: { min: o.yMin, max: o.yMax, afterBuildTicks: tickList(o.yTicks),
             grid: { drawOnChartArea: false, tickLength: o.tickY, tickWidth: o.lineW, tickColor: '#000' },
             border: { color: '#000', width: o.lineW },
             ticks: { font: o.yFont, padding: 4 },
             afterFit: fitTo(p.yw) }
      }
    },
    plugins: [{ id: 'dots', afterDatasetsDraw: function (ch) { drawDots(ch, o); if (o.extra) o.extra(ch); } }]
  });
}
function sigLabels(ch, labels, vals, lo, hi) {
  var ctx = ch.ctx, xs = ch.scales.x, ys = ch.scales.y;
  ctx.save();
  ctx.fillStyle = '#000'; ctx.textAlign = 'center'; ctx.textBaseline = 'middle';
  labels.forEach(function (s, i) {
    if (vals[i] < lo || vals[i] >= hi) return;
    var x = xs.getPixelForValue(i), y = ys.getPixelForValue(vals[i]);
    if (s.charAt(0) === '*') { ctx.font = '25px ' + FONT; ctx.fillText(s, x, y + 7); }
    else { ctx.font = '20px ' + FONT; ctx.fillText(s, x, y); }
  });
  ctx.restore();
}
function breakMark(ch, v) {
  var ctx = ch.ctx, a = ch.chartArea, y = ch.scales.y.getPixelForValue(v);
  ctx.save(); ctx.strokeStyle = '#000'; ctx.lineWidth = 4;
  ctx.beginPath(); ctx.moveTo(a.left - 2, y); ctx.lineTo(a.left + 11, y); ctx.stroke();
  ctx.restore();
}
var fBase = {
  names: fGenes, barColors: fBarColors, dotColors: fDotColors, edge: '#333', edgeW: 2, barW: 30,
  lineW: 4, tickX: 15, tickY: 14, xFont: { size: 25 }, yFont: { size: 18, weight: 'bold' },
  r: 4, gap: 13, errW: 2.5, capW: 17
};
function withBase(extra) {
  var o = {}, k;
  for (k in fBase) o[k] = fBase[k];
  for (k in extra) o[k] = extra[k];
  return o;
}
groupBars([0, 1440, 490, 520], [124, 1492, 466, 1835], withBase({
  means: f1Mean, sems: f1Sem, pts: f1Pts, xMin: -0.667, xMax: 6.69, showX: true,
  yMin: 0, yMax: 8, yTicks: [0, 2, 4, 6, 8],
  extra: function (ch) { sigLabels(ch, f1Sig, f1SigY, 0, 99); }
}));
groupBars([520, 1440, 440, 520], [607, 1688, 938, 1838], withBase({
  means: f2Mean, sems: f2Sem, pts: f2Pts, xMin: -0.642, xMax: 6.686, showX: true,
  yMin: 0, yMax: 3, yTicks: [0, 1, 2, 3],
  extra: function (ch) { sigLabels(ch, f2Sig, f2SigY, 0, 10); breakMark(ch, 3); }
}));
groupBars([520, 1440, 440, 240], [607, 1508, 938, 1658], withBase({
  means: f2Mean, sems: f2Sem, pts: f2Pts, xMin: -0.642, xMax: 6.686, showX: false,
  yMin: 10, yMax: 30, yTicks: [10, 15, 20, 25, 30],
  extra: function (ch) { sigLabels(ch, f2Sig, f2SigY, 10, 99); breakMark(ch, 10); }
}));

var gAxisL = [1080, 1333, 1587, 1848], gAxisR = [1239, 1492, 1745, 2005];
function brackets(ch, k) {
  var ctx = ch.ctx, xs = ch.scales.x, ys = ch.scales.y;
  var x0 = xs.getPixelForValue(0), x1 = xs.getPixelForValue(1), x2 = xs.getPixelForValue(2);
  var yt = ys.getPixelForValue(gTopY[k]), yl = ys.getPixelForValue(gLowY[k]);
  ctx.save();
  ctx.strokeStyle = '#000'; ctx.lineWidth = 2.5;
  ctx.beginPath();
  ctx.moveTo(x0, yt + 14); ctx.lineTo(x0, yt); ctx.lineTo(x2, yt); ctx.lineTo(x2, yt + 14);
  ctx.moveTo(x0, ys.getPixelForValue(gLegCtrl[k])); ctx.lineTo(x0, yl); ctx.lineTo(x1 - 5, yl); ctx.lineTo(x1 - 5, yl + 8);
  ctx.moveTo(x1 + 5, yl + 8); ctx.lineTo(x1 + 5, yl); ctx.lineTo(x2, yl); ctx.lineTo(x2, ys.getPixelForValue(gLegLxb[k]));
  ctx.stroke();
  ctx.fillStyle = '#000'; ctx.textAlign = 'center'; ctx.textBaseline = 'middle';
  function put(s, x, y) {
    if (s.charAt(0) === '*') { ctx.font = 'bold 28px ' + FONT; ctx.fillText(s, x, y - 8); }
    else { ctx.font = '20px ' + FONT; ctx.fillText(s, x, y - 17); }
  }
  put(gTopSig[k], (x0 + x2) / 2, yt);
  put(gLowSig[k][0], (x0 + x1) / 2, yl);
  put(gLowSig[k][1], (x1 + x2) / 2, yl);
  ctx.restore();
}
gGenes.forEach(function (g, k) {
  var L = gAxisL[k], R = gAxisR[k], ticks = [];
  for (var v = 0; v <= gYMax[k]; v += gYStep[k]) ticks.push(v);
  groupBars([L - 45, 1440, R - L + 48, 568], [L, 1604, R, 1840], {
    names: gGroups, means: gMean[k], sems: gSem[k], pts: gPts[k],
    barColors: gBarColors, dotColors: gDotColors, shapes: gShapes,
    edge: '#111', edgeW: 1.5, barW: 31, lineW: 2.5, tickX: 10, tickY: 7,
    xFont: { size: 26, style: 'italic' }, yFont: { size: 19 },
    xMin: -0.695, xMax: 2.65, showX: true, yMin: 0, yMax: gYMax[k], yTicks: ticks,
    r: 4, gap: 8.5, errW: 2.2, capW: 18,
    extra: function (ch) { brackets(ch, k); }
  });
});

// ---- text ----
txt('A', 14, 20, 35, { b: 1 });
txt('B', 632, 20, 31, { b: 1 });
txt('C', 170, 523, 33, { b: 1 });
txt('D', 62, 1075, 30, { b: 1 });
txt('E', 1344, 18, 33, { b: 1 });
txt('F', 60, 1478, 33, { b: 1 });
txt('G', 1061, 1480, 31, { b: 1 });
txt('Number of DEGs', 13, 220, 28, { rot: -90 });
txt('Cell Type', 286, 453, 28);
txt('\u2212log10 p\u2212value', 685, 220, 28, { rot: -90 });
txt('log2 fold change', 1002, 442, 28);
var dTitleX = [187, 404, 618, 850, 1049];
dGenes.forEach(function (g, k) { txt(g, dTitleX[k], 1083, 27, { i: 1 }); });
txt('Expression Level', 81, 1218, 27, { rot: -90 });
txt('Identity', 615, 1415, 27);
[['#F8766D', 1197, 'Control'], ['#00868B', 1232, 'LXB<sub style="font-size:0.65em">4</sub>']].forEach(function (s) {
  var d = document.createElement('div');
  d.className = 'sw';
  d.style.left = '1132px'; d.style.top = s[1] + 'px'; d.style.width = '34px'; d.style.height = '33px';
  d.style.background = s[0];
  fig.appendChild(d);
  txt(s[2], 1182, s[1] + 17, 28, { left: 1 });
});
txt('Split Identity', 1322, 662, 28, { rot: -90 });
txt('Features', 1693, 1403, 28);
txt('Percent Expressed', 1974, 677, 28, { rot: 90 });
txt('1 week', 290, 1441, 27);
txt('8 weeks', 763, 1447, 27);
txt('Fold Change', 60, 1688, 28, { rot: -90 });
txt('Sensome', 178, 1987, 27);
txt('Reactivity', 355, 1987, 27);
txt('Sensome', 648, 1990, 27);
txt('Reactivity', 827, 1990, 27);
txt('Fold Change', 1035, 1736, 27, { rot: -90 });
var gTitleX = [1154, 1409, 1656, 1918];
gGenes.forEach(function (g, k) { txt(g, gTitleX[k], 1490, 27, { i: 1 }); });

function arrowRow(x0, xm, x1, y) {
  return '<line x1="' + (x0 + 10) + '" y1="' + y + '" x2="' + (x1 - 10) + '" y2="' + y + '"/>' +
    '<polygon points="' + x0 + ',' + y + ' ' + (x0 + 14) + ',' + (y - 7) + ' ' + (x0 + 14) + ',' + (y + 7) + '"/>' +
    '<polygon points="' + xm + ',' + y + ' ' + (xm - 14) + ',' + (y - 7) + ' ' + (xm - 14) + ',' + (y + 7) + '"/>' +
    '<polygon points="' + xm + ',' + y + ' ' + (xm + 14) + ',' + (y - 7) + ' ' + (xm + 14) + ',' + (y + 7) + '"/>' +
    '<polygon points="' + x1 + ',' + y + ' ' + (x1 - 14) + ',' + (y - 7) + ' ' + (x1 - 14) + ',' + (y + 7) + '"/>';
}
var svg = document.createElementNS('http://www.w3.org/2000/svg', 'svg');
svg.setAttribute('width', '2008'); svg.setAttribute('height', '2008');
svg.innerHTML = '<g stroke="#000" stroke-width="2" fill="#000">' + arrowRow(98, 258, 444, 1963) + arrowRow(568, 728, 913, 1968) + '</g>';
fig.appendChild(svg);
</script>
</body>
</html>
